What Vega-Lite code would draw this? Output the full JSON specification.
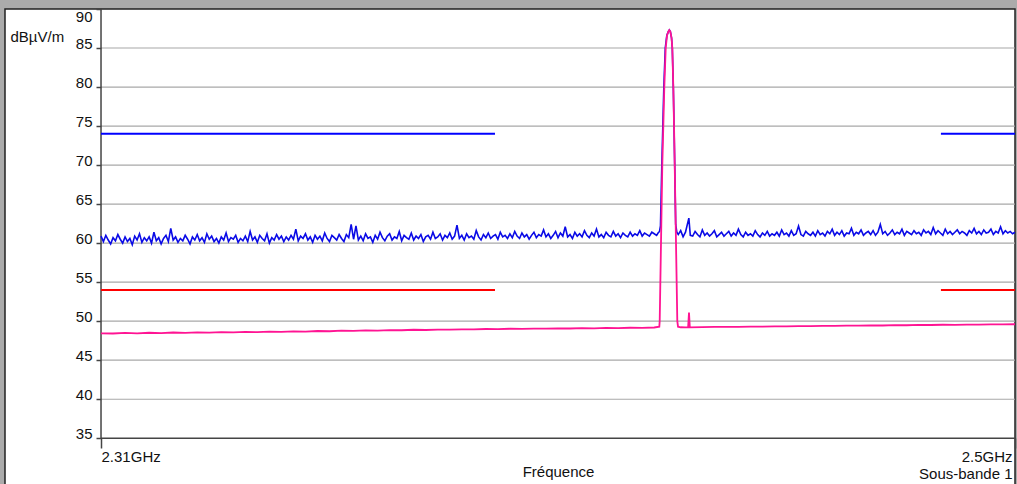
{
  "$schema": "https://vega.github.io/schema/vega-lite/v6.json",
  "width": 1010,
  "height": 476,
  "autosize": {"type": "none"},
  "padding": {"left": 5, "top": 9, "right": 2, "bottom": 0},
  "background": "#ababab",
  "config": {"view": {"fill": "white", "stroke": "#222222", "strokeWidth": 1.5}, "font": "Liberation Sans"},
  "datasets": {
    "grid": [{"f":2.31,"f2":2.5,"v":40},{"f":2.31,"f2":2.5,"v":45},{"f":2.31,"f2":2.5,"v":50},{"f":2.31,"f2":2.5,"v":55},{"f":2.31,"f2":2.5,"v":60},{"f":2.31,"f2":2.5,"v":65},{"f":2.31,"f2":2.5,"v":70},{"f":2.31,"f2":2.5,"v":75},{"f":2.31,"f2":2.5,"v":80},{"f":2.31,"f2":2.5,"v":85}],
    "axes": [{"f":2.31,"f2":2.5,"v":35,"v2":35},{"f":2.31,"f2":2.31,"v":35,"v2":90}],
    "limits": [{"f":2.31,"f2":2.3919,"v":74,"k":"b"},{"f":2.4846,"f2":2.5,"v":74,"k":"b"},{"f":2.31,"f2":2.3919,"v":54,"k":"r"},{"f":2.4846,"f2":2.5,"v":54,"k":"r"}],
    "blue": [
{"f":2.31,"v":60.9},{"f":2.3105,"v":60.2},{"f":2.311,"v":61.0},{"f":2.3115,"v":60.4},{"f":2.312,"v":59.9},{"f":2.3125,"v":60.7},{"f":2.313,"v":60.3},{"f":2.3135,"v":61.1},{"f":2.314,"v":60.5},{"f":2.3145,"v":60.0},{"f":2.315,"v":60.8},{"f":2.3155,"v":60.2},{"f":2.316,"v":60.6},{"f":2.3165,"v":59.8},{"f":2.317,"v":60.9},{"f":2.3175,"v":60.4},{"f":2.318,"v":61.2},{"f":2.3185,"v":60.1},{"f":2.319,"v":60.7},{"f":2.3195,"v":60.3},
{"f":2.32,"v":60.8},{"f":2.3205,"v":60.0},{"f":2.321,"v":61.4},{"f":2.3215,"v":60.3},{"f":2.322,"v":60.7},{"f":2.3225,"v":59.9},{"f":2.323,"v":60.6},{"f":2.3235,"v":61.0},{"f":2.324,"v":60.2},{"f":2.3245,"v":61.9},{"f":2.325,"v":60.4},{"f":2.3255,"v":60.8},{"f":2.326,"v":60.1},{"f":2.3265,"v":60.6},{"f":2.327,"v":60.3},{"f":2.3275,"v":61.0},{"f":2.328,"v":60.5},{"f":2.3285,"v":59.9},{"f":2.329,"v":60.8},{"f":2.3295,"v":60.4},
{"f":2.33,"v":61.1},{"f":2.3305,"v":60.3},{"f":2.331,"v":60.7},{"f":2.3315,"v":60.1},{"f":2.332,"v":61.2},{"f":2.3325,"v":60.5},{"f":2.333,"v":60.9},{"f":2.3335,"v":60.2},{"f":2.334,"v":60.6},{"f":2.3345,"v":60.0},{"f":2.335,"v":60.8},{"f":2.3355,"v":60.4},{"f":2.336,"v":61.3},{"f":2.3365,"v":60.2},{"f":2.337,"v":60.7},{"f":2.3375,"v":60.5},{"f":2.338,"v":61.0},{"f":2.3385,"v":60.1},{"f":2.339,"v":60.6},{"f":2.3395,"v":60.3},
{"f":2.34,"v":60.9},{"f":2.3405,"v":60.2},{"f":2.341,"v":61.5},{"f":2.3415,"v":60.4},{"f":2.342,"v":60.8},{"f":2.3425,"v":60.1},{"f":2.343,"v":61.0},{"f":2.3435,"v":60.6},{"f":2.344,"v":60.3},{"f":2.3445,"v":61.2},{"f":2.345,"v":60.0},{"f":2.3455,"v":60.7},{"f":2.346,"v":60.4},{"f":2.3465,"v":61.1},{"f":2.347,"v":60.5},{"f":2.3475,"v":60.9},{"f":2.348,"v":60.2},{"f":2.3485,"v":60.8},{"f":2.349,"v":60.4},{"f":2.3495,"v":61.0},
{"f":2.35,"v":60.5},{"f":2.3505,"v":61.8},{"f":2.351,"v":60.3},{"f":2.3515,"v":60.9},{"f":2.352,"v":60.6},{"f":2.3525,"v":61.2},{"f":2.353,"v":60.4},{"f":2.3535,"v":60.8},{"f":2.354,"v":60.1},{"f":2.3545,"v":61.0},{"f":2.355,"v":60.5},{"f":2.3555,"v":60.9},{"f":2.356,"v":60.3},{"f":2.3565,"v":61.3},{"f":2.357,"v":60.6},{"f":2.3575,"v":60.2},{"f":2.358,"v":61.0},{"f":2.3585,"v":60.7},{"f":2.359,"v":60.4},{"f":2.3595,"v":61.1},
{"f":2.36,"v":60.6},{"f":2.3605,"v":60.2},{"f":2.361,"v":61.1},{"f":2.3615,"v":60.7},{"f":2.362,"v":62.4},{"f":2.3625,"v":60.5},{"f":2.363,"v":62.2},{"f":2.3635,"v":60.4},{"f":2.364,"v":60.9},{"f":2.3645,"v":60.3},{"f":2.365,"v":61.2},{"f":2.3655,"v":60.6},{"f":2.366,"v":60.8},{"f":2.3665,"v":60.1},{"f":2.367,"v":61.0},{"f":2.3675,"v":60.5},{"f":2.368,"v":61.4},{"f":2.3685,"v":60.7},{"f":2.369,"v":60.3},{"f":2.3695,"v":60.9},
{"f":2.37,"v":61.2},{"f":2.3705,"v":60.4},{"f":2.371,"v":60.8},{"f":2.3715,"v":60.6},{"f":2.372,"v":61.5},{"f":2.3725,"v":60.3},{"f":2.373,"v":61.0},{"f":2.3735,"v":60.7},{"f":2.374,"v":60.5},{"f":2.3745,"v":61.3},{"f":2.375,"v":60.4},{"f":2.3755,"v":60.9},{"f":2.376,"v":60.6},{"f":2.3765,"v":61.1},{"f":2.377,"v":60.2},{"f":2.3775,"v":60.8},{"f":2.378,"v":61.0},{"f":2.3785,"v":60.5},{"f":2.379,"v":61.4},{"f":2.3795,"v":60.6},
{"f":2.38,"v":60.8},{"f":2.3805,"v":61.2},{"f":2.381,"v":60.4},{"f":2.3815,"v":61.0},{"f":2.382,"v":60.7},{"f":2.3825,"v":61.3},{"f":2.383,"v":60.5},{"f":2.3835,"v":60.9},{"f":2.384,"v":62.3},{"f":2.3845,"v":60.6},{"f":2.385,"v":61.0},{"f":2.3855,"v":60.4},{"f":2.386,"v":61.2},{"f":2.3865,"v":60.7},{"f":2.387,"v":60.9},{"f":2.3875,"v":60.5},{"f":2.388,"v":61.6},{"f":2.3885,"v":60.8},{"f":2.389,"v":60.4},{"f":2.3895,"v":61.1},
{"f":2.39,"v":60.7},{"f":2.3905,"v":61.3},{"f":2.391,"v":60.6},{"f":2.3915,"v":60.9},{"f":2.392,"v":61.1},{"f":2.3925,"v":60.5},{"f":2.393,"v":61.4},{"f":2.3935,"v":60.8},{"f":2.394,"v":61.0},{"f":2.3945,"v":60.6},{"f":2.395,"v":61.2},{"f":2.3955,"v":60.7},{"f":2.396,"v":61.5},{"f":2.3965,"v":60.9},{"f":2.397,"v":60.6},{"f":2.3975,"v":61.3},{"f":2.398,"v":60.8},{"f":2.3985,"v":61.1},{"f":2.399,"v":60.5},{"f":2.3995,"v":61.0},
{"f":2.4,"v":61.4},{"f":2.4005,"v":60.7},{"f":2.401,"v":61.1},{"f":2.4015,"v":60.9},{"f":2.402,"v":61.7},{"f":2.4025,"v":60.8},{"f":2.403,"v":61.2},{"f":2.4035,"v":60.6},{"f":2.404,"v":61.0},{"f":2.4045,"v":61.5},{"f":2.405,"v":60.7},{"f":2.4055,"v":61.3},{"f":2.406,"v":60.9},{"f":2.4065,"v":62.1},{"f":2.407,"v":60.8},{"f":2.4075,"v":61.1},{"f":2.408,"v":60.6},{"f":2.4085,"v":61.4},{"f":2.409,"v":60.9},{"f":2.4095,"v":61.2},
{"f":2.41,"v":60.8},{"f":2.4105,"v":61.6},{"f":2.411,"v":61.0},{"f":2.4115,"v":60.7},{"f":2.412,"v":61.3},{"f":2.4125,"v":60.9},{"f":2.413,"v":61.8},{"f":2.4135,"v":60.8},{"f":2.414,"v":61.1},{"f":2.4145,"v":60.7},{"f":2.415,"v":61.4},{"f":2.4155,"v":61.0},{"f":2.416,"v":60.8},{"f":2.4165,"v":61.5},{"f":2.417,"v":60.9},{"f":2.4175,"v":61.2},{"f":2.418,"v":60.7},{"f":2.4185,"v":61.3},{"f":2.419,"v":61.0},{"f":2.4195,"v":60.8},
{"f":2.42,"v":61.4},{"f":2.4205,"v":60.9},{"f":2.421,"v":61.2},{"f":2.4215,"v":61.0},{"f":2.422,"v":61.6},{"f":2.4225,"v":60.9},{"f":2.423,"v":61.3},{"f":2.4235,"v":61.1},{"f":2.424,"v":60.9},{"f":2.4245,"v":61.4},{"f":2.425,"v":61.2},{"f":2.4255,"v":61.0},
{"f":2.4258,"v":61.3},{"f":2.4261,"v":61.5},{"f":2.4263,"v":62.2},{"f":2.42658,"v":70},{"f":2.42679,"v":75},{"f":2.427,"v":80},{"f":2.4273,"v":85},{"f":2.42762,"v":86.6},{"f":2.42793,"v":87.1},{"f":2.42814,"v":87.3},{"f":2.42835,"v":87.1},{"f":2.4286,"v":86.3},{"f":2.42876,"v":85},{"f":2.42897,"v":80},{"f":2.42912,"v":75},{"f":2.42926,"v":70},{"f":2.42946,"v":62.4},{"f":2.4297,"v":61.4},{"f":2.43,"v":61.1},
{"f":2.4305,"v":61.6},{"f":2.431,"v":60.8},{"f":2.4315,"v":61.4},{"f":2.4322,"v":63.2},{"f":2.4325,"v":61.0},{"f":2.433,"v":60.9},{"f":2.4335,"v":61.5},{"f":2.434,"v":61.1},{"f":2.4345,"v":60.8},{"f":2.435,"v":61.7},{"f":2.4355,"v":61.0},{"f":2.436,"v":61.3},{"f":2.4365,"v":60.9},{"f":2.437,"v":61.2},{"f":2.4375,"v":61.6},{"f":2.438,"v":60.8},{"f":2.4385,"v":61.1},{"f":2.439,"v":61.4},{"f":2.4395,"v":60.9},{"f":2.44,"v":61.2},
{"f":2.4405,"v":61.5},{"f":2.441,"v":60.9},{"f":2.4415,"v":61.3},{"f":2.442,"v":61.0},{"f":2.4425,"v":61.8},{"f":2.443,"v":61.1},{"f":2.4435,"v":60.8},{"f":2.444,"v":61.4},{"f":2.4445,"v":61.0},{"f":2.445,"v":61.2},{"f":2.4455,"v":60.9},{"f":2.446,"v":61.6},{"f":2.4465,"v":61.1},{"f":2.447,"v":60.8},{"f":2.4475,"v":61.3},{"f":2.448,"v":61.0},{"f":2.4485,"v":61.5},{"f":2.449,"v":60.9},{"f":2.4495,"v":61.2},{"f":2.45,"v":61.0},
{"f":2.4505,"v":61.4},{"f":2.451,"v":60.9},{"f":2.4515,"v":61.7},{"f":2.452,"v":61.1},{"f":2.4525,"v":61.3},{"f":2.453,"v":60.9},{"f":2.4535,"v":61.6},{"f":2.454,"v":61.0},{"f":2.4545,"v":61.2},{"f":2.455,"v":62.2},{"f":2.4555,"v":61.1},{"f":2.456,"v":60.9},{"f":2.4565,"v":61.5},{"f":2.457,"v":61.2},{"f":2.4575,"v":61.0},{"f":2.458,"v":61.4},{"f":2.4585,"v":60.9},{"f":2.459,"v":61.6},{"f":2.4595,"v":61.1},{"f":2.46,"v":61.3},
{"f":2.4605,"v":60.9},{"f":2.461,"v":61.5},{"f":2.4615,"v":61.2},{"f":2.462,"v":61.8},{"f":2.4625,"v":61.0},{"f":2.463,"v":61.4},{"f":2.4635,"v":61.1},{"f":2.464,"v":61.6},{"f":2.4645,"v":60.9},{"f":2.465,"v":61.3},{"f":2.4655,"v":61.2},{"f":2.466,"v":61.9},{"f":2.4665,"v":61.0},{"f":2.467,"v":61.4},{"f":2.4675,"v":61.2},{"f":2.468,"v":61.7},{"f":2.4685,"v":61.0},{"f":2.469,"v":61.3},{"f":2.4695,"v":61.5},{"f":2.47,"v":61.1},
{"f":2.4705,"v":61.6},{"f":2.471,"v":61.0},{"f":2.4715,"v":61.4},{"f":2.472,"v":62.4},{"f":2.4725,"v":61.2},{"f":2.473,"v":61.5},{"f":2.4735,"v":61.0},{"f":2.474,"v":61.3},{"f":2.4745,"v":61.7},{"f":2.475,"v":61.1},{"f":2.4755,"v":61.4},{"f":2.476,"v":61.2},{"f":2.4765,"v":61.8},{"f":2.477,"v":61.0},{"f":2.4775,"v":61.5},{"f":2.478,"v":61.3},{"f":2.4785,"v":61.1},{"f":2.479,"v":61.6},{"f":2.4795,"v":61.2},{"f":2.48,"v":61.4},
{"f":2.4805,"v":61.0},{"f":2.481,"v":61.7},{"f":2.4815,"v":61.3},{"f":2.482,"v":61.5},{"f":2.4825,"v":61.1},{"f":2.483,"v":62.0},{"f":2.4835,"v":61.2},{"f":2.484,"v":61.6},{"f":2.4845,"v":61.3},{"f":2.485,"v":61.0},{"f":2.4855,"v":61.8},{"f":2.486,"v":61.2},{"f":2.4865,"v":61.5},{"f":2.487,"v":61.1},{"f":2.4875,"v":61.4},{"f":2.488,"v":61.7},{"f":2.4885,"v":61.2},{"f":2.489,"v":61.5},{"f":2.4895,"v":61.3},{"f":2.49,"v":61.0},
{"f":2.4905,"v":61.6},{"f":2.491,"v":61.3},{"f":2.4915,"v":61.9},{"f":2.492,"v":61.2},{"f":2.4925,"v":61.5},{"f":2.493,"v":61.1},{"f":2.4935,"v":61.7},{"f":2.494,"v":61.3},{"f":2.4945,"v":61.4},{"f":2.495,"v":61.8},{"f":2.4955,"v":61.1},{"f":2.496,"v":61.5},{"f":2.4965,"v":61.3},{"f":2.497,"v":62.1},{"f":2.4975,"v":61.2},{"f":2.498,"v":61.6},{"f":2.4985,"v":61.3},{"f":2.499,"v":61.5},{"f":2.4995,"v":61.2},{"f":2.5,"v":61.4}
    ],
    "pink": [
{"f":2.31,"v":48.45},{"f":2.3125,"v":48.42},{"f":2.315,"v":48.5},{"f":2.3175,"v":48.44},{"f":2.32,"v":48.52},{"f":2.3225,"v":48.47},{"f":2.325,"v":48.55},{"f":2.3275,"v":48.5},{"f":2.33,"v":48.56},{"f":2.3325,"v":48.53},{"f":2.335,"v":48.6},{"f":2.3375,"v":48.56},{"f":2.34,"v":48.62},{"f":2.3425,"v":48.6},{"f":2.345,"v":48.66},{"f":2.3475,"v":48.63},{"f":2.35,"v":48.7},{"f":2.3525,"v":48.67},{"f":2.355,"v":48.74},{"f":2.3575,"v":48.71},{"f":2.36,"v":48.78},{"f":2.3625,"v":48.76},{"f":2.365,"v":48.82},{"f":2.3675,"v":48.79},{"f":2.37,"v":48.86},{"f":2.3725,"v":48.84},{"f":2.375,"v":48.9},{"f":2.3775,"v":48.87},{"f":2.38,"v":48.93},{"f":2.3825,"v":48.91},{"f":2.385,"v":48.96},{"f":2.3875,"v":48.94},{"f":2.39,"v":49.0},{"f":2.3925,"v":48.98},{"f":2.395,"v":49.03},{"f":2.3975,"v":49.01},{"f":2.4,"v":49.05},{"f":2.4025,"v":49.04},{"f":2.405,"v":49.08},{"f":2.4075,"v":49.06},{"f":2.41,"v":49.11},{"f":2.4125,"v":49.09},{"f":2.415,"v":49.13},{"f":2.4175,"v":49.12},{"f":2.42,"v":49.16},{"f":2.4225,"v":49.15},{"f":2.425,"v":49.19},
{"f":2.42606,"v":49.3},{"f":2.42614,"v":50},{"f":2.42641,"v":60},{"f":2.42668,"v":70},{"f":2.42689,"v":75},{"f":2.4271,"v":80},{"f":2.42739,"v":85},{"f":2.42766,"v":86.6},{"f":2.42793,"v":87.1},{"f":2.42814,"v":87.3},{"f":2.42835,"v":87.1},{"f":2.4286,"v":86.3},{"f":2.42876,"v":85},{"f":2.42897,"v":80},{"f":2.42912,"v":75},{"f":2.42926,"v":70},{"f":2.42953,"v":60},{"f":2.4298,"v":50},{"f":2.42995,"v":49.3},
{"f":2.4305,"v":49.22},{"f":2.4315,"v":49.2},{"f":2.43205,"v":49.2},{"f":2.43223,"v":51.1},{"f":2.4324,"v":49.2},{"f":2.435,"v":49.24},{"f":2.4375,"v":49.26},{"f":2.44,"v":49.28},{"f":2.4425,"v":49.27},{"f":2.445,"v":49.31},{"f":2.4475,"v":49.3},{"f":2.45,"v":49.34},{"f":2.4525,"v":49.33},{"f":2.455,"v":49.37},{"f":2.4575,"v":49.36},{"f":2.46,"v":49.4},{"f":2.4625,"v":49.39},{"f":2.465,"v":49.43},{"f":2.4675,"v":49.42},{"f":2.47,"v":49.46},{"f":2.4725,"v":49.45},{"f":2.475,"v":49.49},{"f":2.4775,"v":49.48},{"f":2.48,"v":49.52},{"f":2.4825,"v":49.51},{"f":2.485,"v":49.54},{"f":2.4875,"v":49.53},{"f":2.49,"v":49.57},{"f":2.4925,"v":49.56},{"f":2.495,"v":49.59},{"f":2.4975,"v":49.58},{"f":2.5,"v":49.61}
    ]
  },
  "encoding": {
    "x": {
      "field": "f", "type": "quantitative",
      "scale": {"domain": [2.29004, 2.5], "nice": false, "zero": false},
      "axis": {
        "orient": "bottom", "offset": -47, "values": [2.31, 2.5], "domain": false, "grid": false,
        "tickSize": 10, "tickColor": "#444444", "tickWidth": 1.5,
        "labelExpr": "datum.value > 2.4 ? ['2.5GHz', 'Sous-bande 1'] : '2.31GHz'",
        "labelAlign": {"condition": {"test": "datum.value > 2.4", "value": "right"}, "value": "left"},
        "labelOffset": {"condition": {"test": "datum.value > 2.4", "value": -3}, "value": 0},
        "labelBaseline": "top", "labelPadding": 1, "labelLineHeight": 17, "labelFontSize": 15, "labelColor": "#111111",
        "labelOverlap": false, "labelFlush": false, "labelBound": false,
        "title": "Fréquence", "titleFontSize": 15, "titleFontWeight": "normal", "titleColor": "#111111",
        "titleX": 553, "titleY": 38, "titleBaseline": "alphabetic", "titleAlign": "center"
      }
    },
    "y": {
      "field": "v", "type": "quantitative",
      "scale": {"domain": [29.01, 90], "nice": false, "zero": false},
      "axis": {
        "orient": "left", "offset": -96, "values": [35, 40, 45, 50, 55, 60, 65, 70, 75, 80, 85, 90],
        "domain": false, "grid": false, "tickSize": 5, "tickColor": "#444444", "tickWidth": 1.5,
        "labelFontSize": 15, "labelColor": "#111111", "labelPadding": 4,
        "labelBaseline": {"condition": {"test": "datum.value == 90", "value": "top"}, "value": "alphabetic"},
        "labelOverlap": false, "labelBound": false, "labelFlush": false,
        "title": "dBµV/m", "titleAngle": 0, "titleAlign": "left", "titleBaseline": "alphabetic",
        "titleX": -91, "titleY": 32, "titleFontSize": 15, "titleFontWeight": "normal", "titleColor": "#111111"
      }
    }
  },
  "layer": [
    {
      "data": {"name": "grid"},
      "mark": {"type": "rule", "color": "#a8a8a8", "strokeWidth": 1.2},
      "encoding": {"x2": {"field": "f2"}}
    },
    {
      "data": {"name": "axes"},
      "mark": {"type": "rule", "color": "#444444", "strokeWidth": 1.5},
      "encoding": {"x2": {"field": "f2"}, "y2": {"field": "v2"}}
    },
    {
      "data": {"name": "limits"},
      "mark": {"type": "rule", "strokeWidth": 2},
      "encoding": {
        "x2": {"field": "f2"},
        "color": {"field": "k", "type": "nominal", "scale": {"domain": ["b", "r"], "range": ["#0000ff", "#ff0000"]}, "legend": null}
      }
    },
    {
      "data": {"name": "blue"},
      "mark": {"type": "line", "color": "#0a0ae6", "strokeWidth": 1.6}
    },
    {
      "data": {"name": "pink"},
      "mark": {"type": "line", "color": "#ff1493", "strokeWidth": 1.8}
    }
  ]
}
